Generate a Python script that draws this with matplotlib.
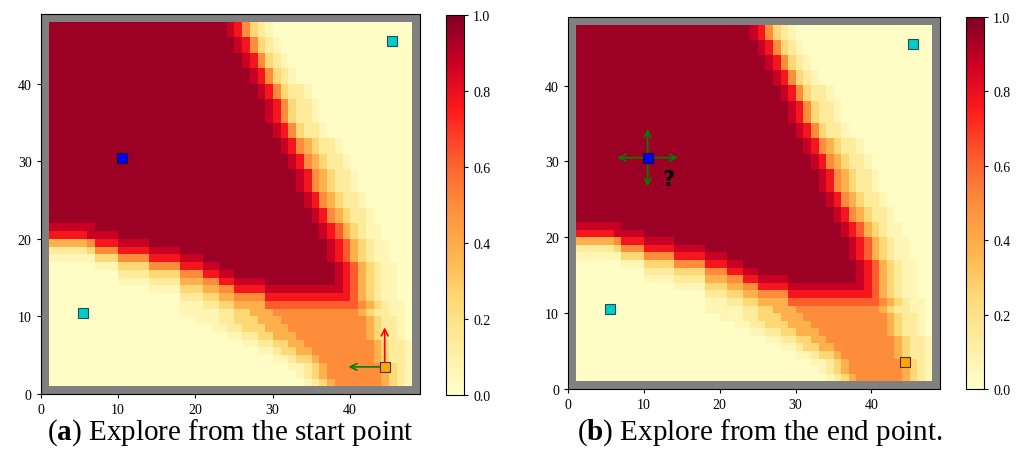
import numpy as np
import matplotlib
matplotlib.use('Agg')
import matplotlib.pyplot as plt
from matplotlib.colors import LinearSegmentedColormap

plt.rcParams['font.family'] = ['Liberation Serif', 'DejaVu Serif']
plt.rcParams['mathtext.fontset'] = 'custom'
plt.rcParams['mathtext.rm'] = 'Liberation Serif'
plt.rcParams['mathtext.bf'] = 'Liberation Serif:bold'

# value of each cell code used in grid_rows
level = {'.': 0.02, '1': 0.07, '2': 0.14, '3': 0.25, '4': 0.38, '5': 0.5,
         '6': 0.62, '7': 0.7, '8': 0.77, '9': 0.88, 'X': 0.95}

# interior cells, top row (y=47) first, columns x=1..47
grid_rows = [
    "X" * 23 + "985321" + "." * 18,          # 47
    "X" * 23 + "985321" + "." * 18,          # 46
    "X" * 24 + "985321" + "." * 17,          # 45
    "X" * 24 + "985321" + "." * 17,          # 44
    "X" * 25 + "985321" + "." * 16,          # 43
    "X" * 25 + "985321" + "." * 16,          # 42
    "X" * 26 + "985321" + "." * 15,          # 41
    "X" * 26 + "985321" + "." * 15,          # 40
    "X" * 27 + "9853221" + "." * 13,         # 39
    "X" * 27 + "9853221" + "." * 13,         # 38
    "X" * 28 + "9853221" + "." * 12,         # 37
    "X" * 28 + "9853221" + "." * 12,         # 36
    "X" * 28 + "9853221" + "." * 12,         # 35
    "X" * 29 + "9853221" + "." * 11,         # 34
    "X" * 29 + "9853221" + "." * 11,         # 33
    "X" * 30 + "98543221" + "." * 9,         # 32
    "X" * 30 + "98543221" + "." * 9,         # 31
    "X" * 31 + "98543221" + "." * 8,         # 30
    "X" * 31 + "98543221" + "." * 8,         # 29
    "X" * 32 + "98543221" + "." * 7,         # 28
    "X" * 32 + "98543221" + "." * 7,         # 27
    "X" * 32 + "98543221" + "." * 7,         # 26
    "X" * 33 + "98543221" + "." * 6,         # 25
    "X" * 33 + "98543221" + "." * 6,         # 24
    "X" * 34 + "98543221" + "." * 5,         # 23
    "X" * 34 + "98543221" + "." * 5,         # 22
    "9" * 6 + "X" * 29 + "98" + "643211" + "." * 4,                                   # 21
    "8" * 5 + "9" * 4 + "X" * 26 + "98" + "643211" + "." * 4,                         # 20
    "4" * 5 + "5" + "8" * 3 + "9" * 4 + "X" * 23 + "98" + "643211" + "." * 3,         # 19
    "2" * 5 + "3" + "5" * 3 + "8" * 4 + "9" * 4 + "X" * 19 + "98" + "643211" + "." * 3,  # 18
    "1" * 6 + "3" * 3 + "5" * 4 + "8" * 4 + "9" * 3 + "X" * 16 + "98" + "643211" + "." * 3,  # 17
    "." * 6 + "1" * 3 + "3" * 4 + "5" * 4 + "8" * 3 + "9" * 2 + "X" * 15 + "98" + "643211" + "." * 2,  # 16
    "." * 9 + "2" * 4 + "3" * 4 + "5" * 3 + "8" * 2 + "9" * 2 + "X" * 13 + "98" + "643211" + "." * 2,  # 15
    "." * 9 + "1" * 4 + "2" * 4 + "4" * 3 + "5" * 2 + "8" * 2 + "9" * 4 + "X" * 9 + "98" + "643211" + "." * 2,  # 14
    "." * 13 + "1" * 4 + "3" * 3 + "4" * 2 + "5" * 2 + "8" * 4 + "9" * 10 + "8" + "643211" + "." * 2,  # 13
    "." * 17 + "2" * 3 + "3" * 2 + "4" * 2 + "5" * 4 + "8" * 11 + "643211" + "." * 2,  # 12
    "." * 17 + "1" * 3 + "2" * 2 + "3" * 2 + "4" * 4 + "6" * 12 + "543211" + ".",     # 11
    "." * 17 + "1" * 5 + "2" * 2 + "3" * 2 + "4" * 3 + "5" * 11 + "432211" + ".",     # 10
    "." * 19 + "1" * 3 + "2" * 2 + "3" * 3 + "4" * 3 + "5" * 11 + "43221" + ".",      # 9
    "." * 21 + "1" * 2 + "2" * 2 + "3" * 3 + "4" * 3 + "5" * 10 + "43221" + ".",      # 8
    "." * 23 + "1" * 2 + "2" * 2 + "3" * 2 + "4" * 3 + "5" * 9 + "43221" + ".",       # 7
    "." * 25 + "1" * 2 + "2" * 2 + "3" * 2 + "4" * 2 + "5" * 9 + "43221",             # 6
    "." * 27 + "1" * 2 + "2" + "3" * 2 + "4" * 2 + "5" * 8 + "43221",                 # 5
    "." * 29 + "1" * 2 + "2" + "3" * 2 + "4" + "5" * 7 + "43221",                     # 4
    "." * 31 + "11234" + "5" * 7 + "4321",                                            # 3
    "." * 32 + "1234" + "5" * 7 + "4321",                                             # 2
    "." * 33 + "1234" + "5" * 6 + "4321",                                             # 1
]

# marker cells
start_pt = (44.5, 3.5)
end_pt = (10.5, 30.5)
cyan_pts = [(5.5, 10.5), (45.5, 45.5)]

captions = [r'($\mathbf{a}$) Explore from the start point',
            r'($\mathbf{b}$) Explore from the end point.']

# build the 49x49 map, outer ring is the wall (gray)
n = 49
vals = np.full((n, n), np.nan)
for i, row in enumerate(grid_rows):
    y = 47 - i
    for j, c in enumerate(row[:47]):
        vals[y, j + 1] = level[c]
grid = np.ma.masked_invalid(vals)

# YlOrRd-like ramp, reds a bit brighter as in the picture
cmap = LinearSegmentedColormap.from_list('ylorrd_bright', [
    (0.0, '#ffffcc'), (0.125, '#ffeda0'), (0.25, '#fed976'), (0.375, '#feb24c'),
    (0.5, '#fd8d3c'), (0.625, '#fd5a2c'), (0.75, '#ff1a1c'), (0.875, '#cc0024'),
    (1.0, '#800026')])
cmap.set_bad('#808080')

fig = plt.figure(figsize=(10.24, 4.52), dpi=100)

W, H = 1024.0, 452.0
ax_boxes = [(40.7, 395, 378.8, 379.8), (568, 390, 371.6, 371.6)]
cb_boxes = [(446, 396, 18, 380), (966, 390, 18, 372)]
cap_x = [230, 760]


def draw_arrow(ax, p0, p1, color):
    ax.annotate('', xy=p1, xytext=p0,
                arrowprops=dict(arrowstyle='->', color=color, lw=1.2,
                                mutation_scale=12, shrinkA=0, shrinkB=0),
                zorder=4)


for k in range(2):
    l, b, w, h = ax_boxes[k]
    ax = fig.add_axes([l / W, (H - b) / H, w / W, h / H])
    im = ax.imshow(grid, cmap=cmap, vmin=0, vmax=1, origin='lower',
                   extent=[0, n, 0, n], interpolation='nearest', aspect='auto')
    ax.set_xlim(0, n)
    ax.set_ylim(0, n)
    ax.set_xticks([0, 10, 20, 30, 40])
    ax.set_yticks([0, 10, 20, 30, 40])
    ax.tick_params(labelsize=10, length=3, width=0.8)
    for s in ax.spines.values():
        s.set_linewidth(0.8)

    if k == 0:
        draw_arrow(ax, start_pt, (start_pt[0], start_pt[1] + 5.1), 'red')
        draw_arrow(ax, start_pt, (start_pt[0] - 4.7, start_pt[1]), 'green')
    else:
        for d in [(4, 0), (-4, 0), (0, 3.8), (0, -3.8)]:
            draw_arrow(ax, end_pt, (end_pt[0] + d[0], end_pt[1] + d[1]), 'green')
        ax.text(13.3, 27.7, '?', fontsize=15, fontweight='bold', family='DejaVu Sans',
                ha='center', va='center', zorder=6)

    ax.plot([p[0] for p in cyan_pts], [p[1] for p in cyan_pts], 's', ms=6.5,
            mfc='#00cccc', mec='#1f4f4f', mew=0.8, zorder=5)
    ax.plot([end_pt[0]], [end_pt[1]], 's', ms=6.5, mfc='#0000ff', mec='#111133',
            mew=0.8, zorder=5)
    ax.plot([start_pt[0]], [start_pt[1]], 's', ms=6.5, mfc='#ffa500', mec='#4a3300',
            mew=0.8, zorder=5)

    cl, cbm, cw, ch = cb_boxes[k]
    cax = fig.add_axes([cl / W, (H - cbm) / H, cw / W, ch / H])
    cb = fig.colorbar(im, cax=cax, ticks=[0, 0.2, 0.4, 0.6, 0.8, 1.0], format='%.1f')
    cb.ax.tick_params(labelsize=10, length=3, width=0.8)
    cb.outline.set_linewidth(0.8)

    fig.text(cap_x[k] / W, (H - 433) / H, captions[k], fontsize=21,
             ha='center', va='center')

fig.savefig('out.png', dpi=100)
